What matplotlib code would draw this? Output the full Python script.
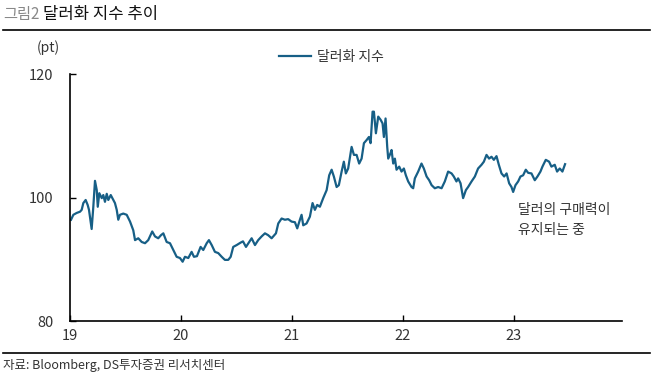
import matplotlib.pyplot as plt
from matplotlib.lines import Line2D

plt.rcParams['font.family'] = ['Noto Sans CJK KR', 'DejaVu Sans']

# 달러화 지수 (x: 연도, 19 = 2019년 초)
years = [
    19.009, 19.030, 19.060, 19.090, 19.105, 19.120, 19.141, 19.159, 19.171, 19.195,
    19.210, 19.225, 19.241, 19.250, 19.264, 19.286, 19.300, 19.315, 19.331, 19.345,
    19.367, 19.390, 19.405, 19.421, 19.435, 19.450, 19.480, 19.511, 19.541, 19.570,
    19.586, 19.615, 19.646, 19.676, 19.705, 19.741, 19.766, 19.795, 19.820, 19.841,
    19.871, 19.901, 19.931, 19.961, 19.991, 20.015, 20.036, 20.066, 20.096, 20.117,
    20.144, 20.177, 20.201, 20.232, 20.252, 20.277, 20.306, 20.336, 20.367, 20.396,
    20.426, 20.448, 20.471, 20.502, 20.538, 20.559, 20.586, 20.615, 20.637, 20.667,
    20.696, 20.727, 20.757, 20.786, 20.817, 20.856, 20.877, 20.907, 20.937, 20.966,
    20.997, 21.027, 21.048, 21.072, 21.087, 21.102, 21.132, 21.162, 21.186, 21.207,
    21.228, 21.252, 21.282, 21.313, 21.336, 21.358, 21.378, 21.403, 21.423, 21.448,
    21.468, 21.486, 21.507, 21.538, 21.559, 21.583, 21.606, 21.628, 21.649, 21.673,
    21.694, 21.709, 21.727, 21.739, 21.757, 21.778, 21.799, 21.817, 21.829, 21.844,
    21.859, 21.868, 21.889, 21.898, 21.913, 21.928, 21.943, 21.967, 21.988, 22.009,
    22.027, 22.048, 22.078, 22.093, 22.108, 22.138, 22.168, 22.189, 22.214, 22.237,
    22.259, 22.288, 22.318, 22.349, 22.378, 22.408, 22.439, 22.459, 22.483, 22.498,
    22.520, 22.543, 22.568, 22.588, 22.619, 22.649, 22.678, 22.709, 22.730, 22.754,
    22.777, 22.799, 22.820, 22.844, 22.865, 22.889, 22.913, 22.935, 22.958, 22.979,
    22.994, 23.015, 23.039, 23.060, 23.084, 23.108, 23.129, 23.159, 23.189, 23.213,
    23.240, 23.258, 23.288, 23.318, 23.339, 23.369, 23.390, 23.414, 23.438, 23.462,
]
dxy = [
    96.4, 97.2, 97.5, 97.7, 98.0, 99.1, 99.6, 98.8, 98.0, 94.9,
    98.5, 102.7, 101.2, 98.5, 100.7, 99.9, 100.4, 99.3, 100.6, 99.6,
    100.4, 99.6, 99.1, 98.0, 96.4, 97.2, 97.4, 97.2, 96.1, 94.7,
    93.1, 93.4, 92.8, 92.6, 93.1, 94.5, 93.7, 93.4, 93.9, 94.2,
    92.8, 92.6, 91.5, 90.4, 90.2, 89.6, 90.4, 90.2, 91.2, 90.4,
    90.5, 92.0, 91.5, 92.6, 93.1, 92.3, 91.2, 91.0, 90.4, 89.9,
    89.9, 90.4, 92.0, 92.3, 92.7, 92.9, 92.0, 92.8, 93.4, 92.3,
    93.1, 93.7, 94.2, 93.9, 93.4, 94.2, 95.8, 96.6, 96.4, 96.5,
    96.1, 96.0, 95.0, 96.4, 97.2, 95.5, 95.8, 96.9, 99.1, 98.0,
    98.8, 98.5, 99.9, 101.2, 103.6, 104.5, 103.4, 101.7, 102.0, 104.2,
    105.8, 103.9, 104.7, 108.2, 106.9, 106.9, 105.5, 106.3, 108.8, 109.3,
    109.8, 108.8, 113.9, 113.9, 110.4, 113.1, 112.6, 112.0, 109.8, 112.8,
    108.2, 106.3, 107.2, 107.7, 105.5, 106.3, 104.5, 105.0, 104.2, 104.7,
    103.6, 102.6, 101.7, 101.5, 103.1, 104.2, 105.5, 104.7, 103.4, 102.8,
    102.0, 101.5, 101.7, 101.5, 102.6, 104.2, 103.9, 103.4, 102.6, 103.1,
    102.3, 99.9, 101.2, 101.7, 102.6, 103.4, 104.7, 105.3, 105.8, 106.9,
    106.3, 106.6, 106.1, 106.7, 105.3, 103.9, 103.4, 103.9, 102.3, 101.7,
    100.9, 102.0, 102.6, 103.4, 103.6, 104.5, 104.0, 103.9, 102.8, 103.4,
    104.2, 105.0, 106.1, 105.8, 105.0, 105.3, 104.2, 104.7, 104.2, 105.4,
]
x_ticks = [19, 20, 21, 22, 23]
y_ticks = [80, 100, 120]

line_color = '#175f86'
text_color = '#333333'

fig = plt.figure(figsize=(6.55, 3.77), dpi=100)
ax = fig.add_axes([0.1069, 0.1485, 0.8427, 0.6552])

ax.plot(years, dxy, color=line_color, lw=1.6)

ax.set_xlim(19, 23.975)
ax.set_ylim(80, 120)
ax.set_xticks(x_ticks)
ax.set_xticklabels([str(t) for t in x_ticks])
ax.set_yticks(y_ticks)
for s in ['top', 'right']:
    ax.spines[s].set_visible(False)
for s in ['left', 'bottom']:
    ax.spines[s].set_linewidth(1.2)
ax.tick_params(direction='in', length=4, width=1, labelsize=10.5,
               labelcolor=text_color, pad=6)
ax.tick_params(axis='y', pad=12)

ax.text(518 / 655, 1 - 210 / 377, '달러의 구매력이', transform=fig.transFigure,
        fontsize=10, color=text_color, va='center', ha='left')
ax.text(518 / 655, 1 - 230 / 377, '유지되는 중', transform=fig.transFigure,
        fontsize=10, color=text_color, va='center', ha='left')

fig.text(48 / 655, 1 - 48 / 377, '(pt)', fontsize=10, color=text_color,
         ha='center', va='center')

handle = Line2D([], [], color=line_color, lw=1.6)
fig.legend([handle], ['달러화 지수'], loc='center', bbox_to_anchor=(0.506, 0.849),
           frameon=False, fontsize=10, handlelength=2.3, handletextpad=0.4,
           labelcolor=text_color)

# 제목, 구분선, 출처
fig.text(3 / 655, 1 - 15 / 377, '그림2', fontsize=11, color='#888888',
         ha='left', va='center')
fig.text(43 / 655, 1 - 15 / 377, '달러화 지수 추이', fontsize=12, color='#111111',
         ha='left', va='center')
fig.add_artist(Line2D([3 / 655, 650 / 655], [1 - 30 / 377, 1 - 30 / 377],
                      color='black', lw=1.2, transform=fig.transFigure))
fig.add_artist(Line2D([3 / 655, 650 / 655], [1 - 352.5 / 377, 1 - 352.5 / 377],
                      color='black', lw=1.2, transform=fig.transFigure))
fig.text(3 / 655, 1 - 365 / 377, '자료: Bloomberg, DS투자증권 리서치센터',
         fontsize=9, color=text_color, ha='left', va='center')

fig.savefig('out.png', dpi=100)
